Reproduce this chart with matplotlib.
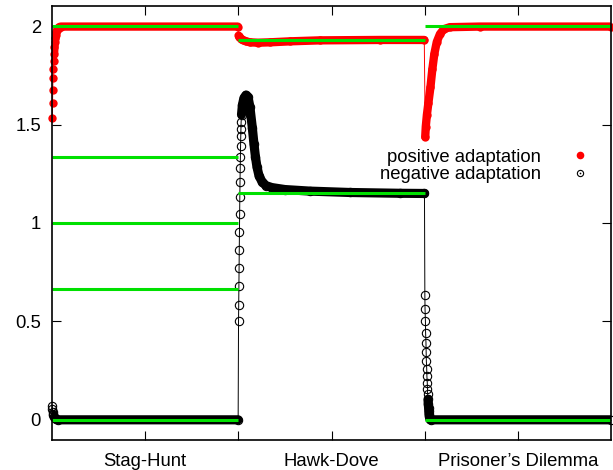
import numpy as np
import matplotlib
matplotlib.use('Agg')
import matplotlib.pyplot as plt
from matplotlib.lines import Line2D
from matplotlib.legend_handler import HandlerTuple

plt.rcParams['font.family'] = ['Liberation Sans', 'DejaVu Sans']
plt.rcParams['font.size'] = 13.3

# games along the x axis (one unit each)
games = ['Stag-Hunt', 'Hawk-Dove', 'Prisoner\u2019s Dilemma']
bounds = [0, 1, 2, 3]

# theoretical equilibria (green lines), one list per game
theory = [[2.0, 4 / 3, 1.0, 2 / 3, 0.0], [1.93, 1.15], [2.0, 0.0]]

# positive adaptation (red)
pos_rise_x = [0.002, 0.003, 0.004, 0.005, 0.007, 0.009]
pos_rise_y = [1.531, 1.612, 1.678, 1.737, 1.784, 1.823]
pos_sh_x = [0.011, 0.013, 0.015, 0.018, 0.020, 0.024, 0.027, 0.031, 0.035,
            0.040, 0.048, 0.997]
pos_sh_y = [1.860, 1.894, 1.919, 1.939, 1.956, 1.970, 1.980, 1.987, 1.992,
            1.996, 1.998, 1.998]
pos_hd_x = [1.001, 1.006, 1.014, 1.025, 1.041, 1.062, 1.105, 1.170, 1.277,
            1.438, 1.760, 1.998]
pos_hd_y = [1.952, 1.945, 1.937, 1.930, 1.923, 1.918, 1.916, 1.918, 1.923,
            1.928, 1.930, 1.930]
pos_pd_x = [2.003, 2.006, 2.012, 2.020, 2.031, 2.041, 2.052, 2.065, 2.082,
            2.103, 2.135, 2.296, 3.0]
pos_pd_y = [1.438, 1.490, 1.550, 1.610, 1.690, 1.780, 1.860, 1.920, 1.960,
            1.985, 1.995, 1.998, 1.998]

# negative adaptation (black)
neg_start_x = [0.000, 0.002, 0.004, 0.006]
neg_start_y = [0.072, 0.055, 0.042, 0.031]
neg_sh_x = [0.008, 0.011, 0.015, 0.020, 0.030, 0.999]
neg_sh_y = [0.022, 0.014, 0.008, 0.004, 0.0, 0.0]
neg_rise_x = [1.001, 1.002, 1.003, 1.004, 1.005, 1.006, 1.007, 1.008, 1.009,
              1.010, 1.011, 1.012, 1.013, 1.014, 1.015]
neg_rise_y = [0.500, 0.585, 0.678, 0.770, 0.865, 0.955, 1.045, 1.134, 1.210,
              1.278, 1.336, 1.390, 1.440, 1.480, 1.514]
neg_hd_x = [1.017, 1.022, 1.030, 1.041, 1.052, 1.062, 1.075, 1.084, 1.092,
            1.100, 1.111, 1.127, 1.148, 1.180, 1.250, 1.384, 1.599, 1.867, 1.999]
neg_hd_y = [1.550, 1.600, 1.635, 1.650, 1.640, 1.590, 1.485, 1.400, 1.335,
            1.285, 1.240, 1.210, 1.190, 1.180, 1.170, 1.162, 1.155, 1.151, 1.150]
neg_drop_x = [2.001, 2.002, 2.004, 2.005, 2.007, 2.008, 2.009, 2.011, 2.012,
              2.014, 2.015, 2.016]
neg_drop_y = [0.632, 0.563, 0.500, 0.442, 0.391, 0.343, 0.298, 0.259, 0.222,
              0.188, 0.158, 0.129]
neg_pd_x = [2.018, 2.019, 2.021, 2.022, 2.023, 2.025, 2.026, 2.028, 2.029,
            2.032, 3.0]
neg_pd_y = [0.104, 0.082, 0.062, 0.045, 0.031, 0.019, 0.011, 0.005, 0.002,
            0.0, 0.0]

RED = '#ff0000'
GREEN = '#00e000'

fig = plt.figure(figsize=(6.13, 4.70), dpi=100)
ax = fig.add_axes([52 / 613, 30.5 / 470, 559 / 613, 433 / 470])

band = dict(solid_capstyle='round', solid_joinstyle='round')

# red series: thin line, dense band, filled circles
pos_x = pos_rise_x + pos_sh_x + pos_hd_x + pos_pd_x
pos_y = pos_rise_y + pos_sh_y + pos_hd_y + pos_pd_y
ax.plot(pos_x, pos_y, color=RED, lw=0.7, zorder=2)
for sx, sy in [(pos_sh_x, pos_sh_y), (pos_hd_x, pos_hd_y), (pos_pd_x, pos_pd_y)]:
    ax.plot(sx, sy, color=RED, lw=6.0, zorder=2, **band)
ax.plot(pos_x, pos_y, ls='none', marker='o', ms=6.0, mew=0, color=RED,
        zorder=2, clip_on=False)

# black series: thin line, dense band, open circles
neg_x = neg_start_x + neg_sh_x + neg_rise_x + neg_hd_x + neg_drop_x + neg_pd_x
neg_y = neg_start_y + neg_sh_y + neg_rise_y + neg_hd_y + neg_drop_y + neg_pd_y
ax.plot(neg_x, neg_y, color='black', lw=0.7, zorder=3)
for sx, sy in [(neg_sh_x, neg_sh_y), (neg_hd_x, neg_hd_y), (neg_pd_x, neg_pd_y)]:
    ax.plot(sx, sy, color='black', lw=6.6, zorder=3, **band)
ax.plot(neg_x, neg_y, ls='none', marker='o', ms=6.0, mew=0.8, mfc='none',
        mec='black', zorder=3, clip_on=False)

# theoretical values
for i, vals in enumerate(theory):
    ax.hlines(vals, bounds[i], bounds[i + 1], color=GREEN, lw=2.2, zorder=4,
              capstyle='butt')

ax.set_xlim(0, 3)
ax.set_ylim(-0.1, 2.1)
ax.set_xticks([0.5, 1, 1.5, 2, 2.5])
ax.set_xticklabels([games[0], '', games[1], '', games[2]])
ax.set_yticks([0, 0.5, 1, 1.5, 2])
ax.set_yticklabels(['0', '0.5', '1', '1.5', '2'])
ax.tick_params(direction='in', length=6.5, width=0.8, top=True, right=True)
ax.tick_params(axis='x', pad=10)
ax.tick_params(axis='y', pad=8)
for s in ax.spines.values():
    s.set_linewidth(1.2)
    s.set_zorder(6)

h_pos = Line2D([], [], ls='none', marker='o', ms=5.5, mew=0, color=RED)
h_neg = (Line2D([], [], ls='none', marker='o', ms=4.5, mew=0.8, mfc='none',
                mec='black'),
         Line2D([], [], ls='none', marker='o', ms=1.2, mew=0, color='black'))
ax.legend([h_pos, h_neg], ['positive adaptation', 'negative adaptation'],
          handler_map={tuple: HandlerTuple(ndivide=1)},
          markerfirst=False, frameon=False, loc='upper right',
          bbox_to_anchor=(0.9685, 0.672), borderpad=0, borderaxespad=0,
          handlelength=1.5, handletextpad=1.35, labelspacing=0.04)

fig.savefig('out.png', dpi=100)
